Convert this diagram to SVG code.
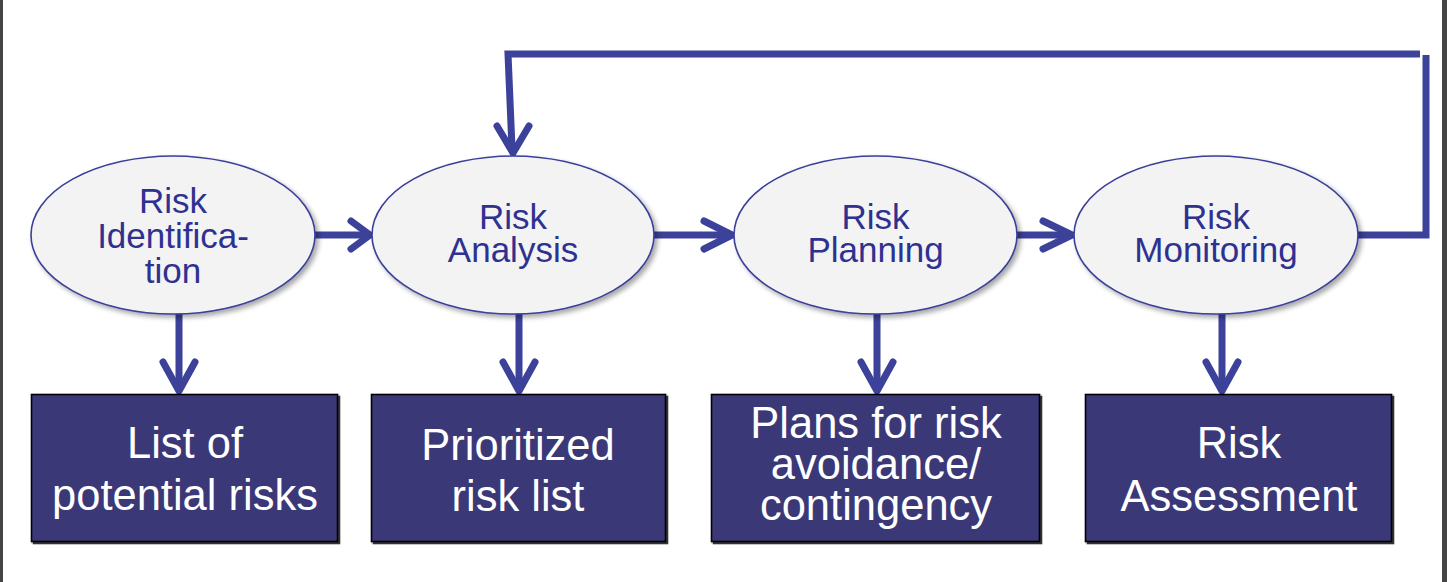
<svg xmlns="http://www.w3.org/2000/svg" width="1447" height="582" viewBox="0 0 1447 582">
<style>
.ell{fill:#f3f3f3;stroke:#3a3f98;stroke-width:1.6;filter:url(#sh)}
.box{fill:#3b3878;stroke:#000;stroke-width:1.6;filter:url(#bsh)}
.et{font-family:"Liberation Sans",Arial,sans-serif;font-size:35px;fill:#2e3190;text-anchor:middle}
.bt{font-family:"Liberation Sans",Arial,sans-serif;font-size:43.5px;fill:#fff;text-anchor:middle}
.ln{fill:none;stroke:#3c4199;stroke-width:7;stroke-linecap:round;stroke-linejoin:round}
.lp{fill:none;stroke:#3c4199;stroke-width:7;stroke-linecap:butt;stroke-linejoin:miter}
</style>
<defs>
<filter id="sh" x="-10%" y="-10%" width="125%" height="130%">
<feGaussianBlur in="SourceAlpha" stdDeviation="2.5"/>
<feOffset dx="3" dy="3" result="b"/>
<feComponentTransfer><feFuncA type="linear" slope="0.35"/></feComponentTransfer>
<feMerge><feMergeNode/><feMergeNode in="SourceGraphic"/></feMerge>
</filter>
<filter id="bsh" x="-5%" y="-5%" width="110%" height="115%">
<feOffset in="SourceAlpha" dx="1.5" dy="1.5"/>
<feComponentTransfer><feFuncA type="linear" slope="0.8"/></feComponentTransfer>
<feMerge><feMergeNode/><feMergeNode in="SourceGraphic"/></feMerge>
</filter>
</defs>
<rect width="1447" height="582" fill="#fff"/>
<rect x="0" y="0" width="3" height="582" fill="#444"/>
<rect x="1442" y="0" width="5" height="582" fill="#444"/>

<g id="connectors">
<path class="lp" d="M1358,235 H1426 V55"/>
<path class="lp" d="M1420,54 H508 L512,148"/>
<path class="ln" d="M497,126 L513,153 L529,126"/>
<path class="lp" d="M315,235 H368"/>
<path class="ln" d="M351,221 L370,235 L351,249"/>
<path class="lp" d="M654,235 H730"/>
<path class="ln" d="M704,221 L732,235 L704,249"/>
<path class="lp" d="M1017,235 H1070"/>
<path class="ln" d="M1043,221 L1072,235 L1043,249"/>
<path class="lp" d="M179,314 V388"/>
<path class="ln" d="M163,362 L179,391 L195,362"/>
<path class="lp" d="M519,314 V388"/>
<path class="ln" d="M503,362 L519,391 L535,362"/>
<path class="lp" d="M877,314 V388"/>
<path class="ln" d="M861,362 L877,391 L893,362"/>
<path class="lp" d="M1222,314 V388"/>
<path class="ln" d="M1206,362 L1222,391 L1238,362"/>
</g>

<g id="n-identification">
<ellipse class="ell" cx="173" cy="235" rx="142" ry="79"/>
<text class="et" x="173" y="213">Risk</text>
<text class="et" x="173" y="248">Identifica-</text>
<text class="et" x="173" y="283">tion</text>
</g>
<g id="n-analysis">
<ellipse class="ell" cx="513" cy="235" rx="141" ry="79"/>
<text class="et" x="513" y="229">Risk</text>
<text class="et" x="513" y="262">Analysis</text>
</g>
<g id="n-planning">
<ellipse class="ell" cx="875.5" cy="235" rx="141.5" ry="79"/>
<text class="et" x="875.5" y="229">Risk</text>
<text class="et" x="875.5" y="262">Planning</text>
</g>
<g id="n-monitoring">
<ellipse class="ell" cx="1216" cy="235" rx="142" ry="79"/>
<text class="et" x="1216" y="229">Risk</text>
<text class="et" x="1216" y="262">Monitoring</text>
</g>

<g id="b-list">
<rect class="box" x="31.5" y="394.5" width="306" height="147"/>
<text class="bt" x="185" y="458">List of</text>
<text class="bt" x="185" y="510">potential risks</text>
</g>
<g id="b-prioritized">
<rect class="box" x="371.5" y="394.5" width="294" height="147"/>
<text class="bt" x="518" y="460">Prioritized</text>
<text class="bt" x="518" y="511">risk list</text>
</g>
<g id="b-plans">
<rect class="box" x="711.5" y="394.5" width="328" height="147"/>
<text class="bt" x="876" y="438">Plans for risk</text>
<text class="bt" x="876" y="479">avoidance/</text>
<text class="bt" x="876" y="520">contingency</text>
</g>
<g id="b-assessment">
<rect class="box" x="1085.5" y="394.5" width="306" height="147"/>
<text class="bt" x="1239" y="458">Risk</text>
<text class="bt" x="1239" y="511">Assessment</text>
</g>
</svg>
